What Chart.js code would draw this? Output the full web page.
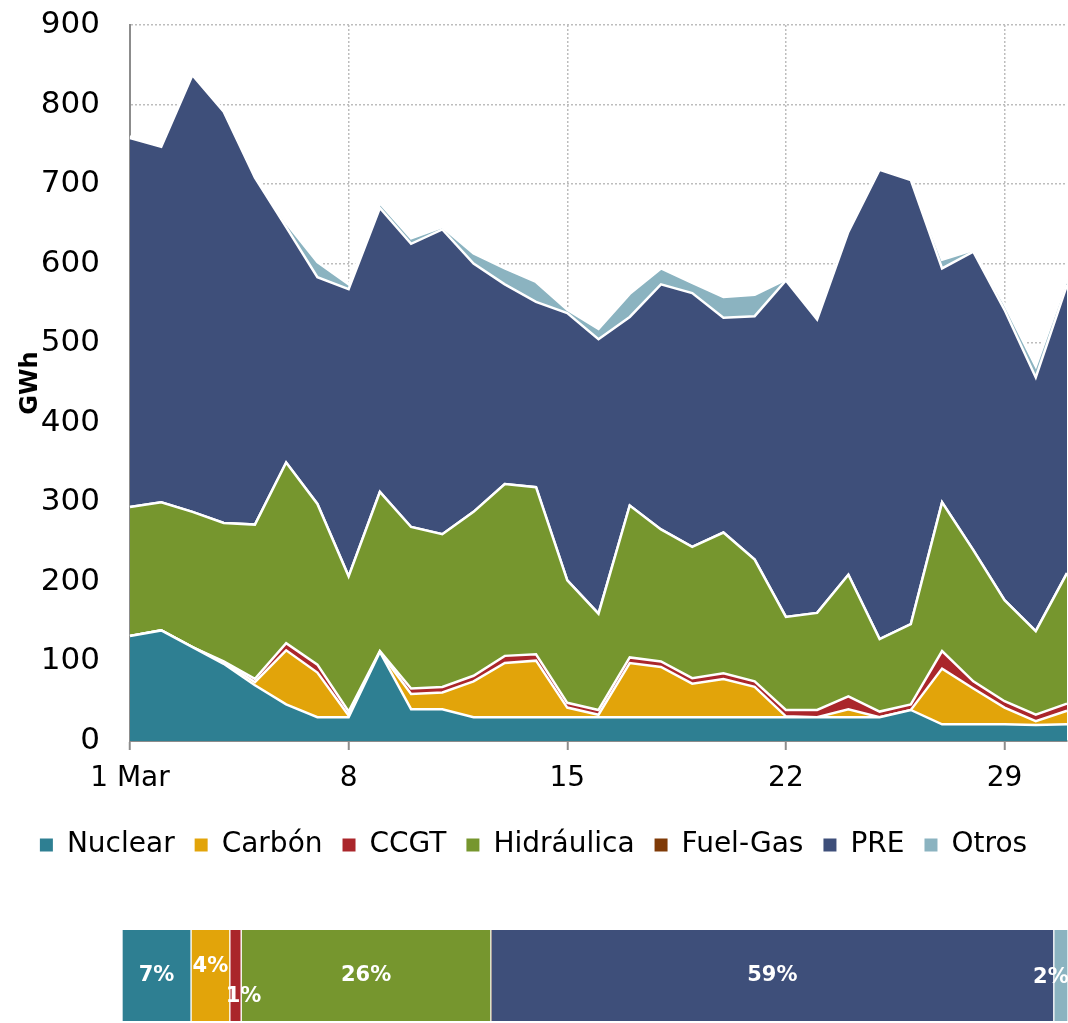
<!DOCTYPE html>
<html>
<head>
<meta charset="utf-8">
<script src="https://cdn.jsdelivr.net/npm/chart.js@4"></script>
<style>
  body { margin: 0; background: #fff; }
  #wrap { position: relative; width: 1068px; height: 1023px; }
  #area { position: absolute; left: 0; top: 0; }
  #share { position: absolute; left: 0; top: 900px; }
</style>
</head>
<body>
<div id="wrap">
  <canvas id="area" width="1068" height="880"></canvas>
  <canvas id="share" width="1068" height="123"></canvas>
</div>
<script>
// March, daily generation in GWh
const days = []
for (let d = 1; d <= 31; d++) days.push(String(d))

const tickDays = ["1", "8", "15", "22", "29"]
const tickText = ["1 Mar", "8", "15", "22", "29"]

const names = ["Nuclear", "Carbón", "CCGT", "Hidráulica", "Fuel-Gas", "PRE", "Otros"]
const colors = ["#2e7f92", "#e2a40a", "#aa262b", "#76962e", "#7f3a07", "#3e4f7a", "#8bb3c0"]

const nuclear = [132, 139, 118, 97, 70, 46, 30, 30, 112, 40, 40, 30, 30, 30, 30, 30, 30, 30, 30, 30, 30, 30, 30, 30, 30, 39, 21, 21, 21, 20, 21]
const carbon = [0, 0, 0, 2, 4, 68, 56, 2, 0, 19, 21, 45, 68, 71, 12, 3, 68, 63, 42, 48, 38, 1, 0, 10, 0, 0, 70, 45, 21, 5, 17]
const ccgt = [0, 0, 0, 1, 4, 9, 10, 5, 1, 7, 7, 7, 9, 8, 6, 6, 7, 7, 7, 7, 7, 8, 9, 16, 7, 7, 22, 9, 8, 8, 9]
const hidraulica = [162, 161, 170, 174, 194, 227, 202, 170, 200, 203, 192, 206, 216, 210, 154, 121, 191, 166, 165, 177, 153, 117, 122, 153, 91, 101, 187, 165, 127, 105, 164]
const fuelgas = [0, 0, 0, 0, 0, 0, 0, 0, 0, 0, 0, 0, 0, 0, 0, 0, 0, 0, 0, 0, 0, 0, 0, 0, 0, 0, 0, 0, 0, 0, 0]
const pre = [464, 447, 549, 517, 436, 296, 285, 361, 357, 356, 383, 312, 251, 233, 336, 345, 237, 308, 319, 270, 306, 423, 369, 431, 590, 558, 294, 375, 365, 319, 362]
const otros = [2, 2, 3, 1, 2, 5, 19, 6, 6, 7, 3, 13, 20, 25, 4, 13, 29, 20, 13, 26, 27, 1, 1, 1, 1, 1, 11, 2, 7, 14, 7]

// month shares (%) for the bar underneath
const shares = [7.3, 4.1, 1.2, 26.4, 0, 59.5, 1.5]
const shareText = ["7%", "4%", "1%", "26%", "", "59%", "2%"]

const series = [nuclear, carbon, ccgt, hidraulica, fuelgas, pre, otros]
const FONT = "'DejaVu Sans', 'Liberation Sans', sans-serif"
const GRID = "#bdbdbd"
const AXIS = "#8c8c8c"
const NONE = "rgba(0,0,0,0)"

const areaSets = series.map((vals, i) => ({
    label: names[i],
    data: vals,
    backgroundColor: colors[i],
    borderColor: "#ffffff",
    borderWidth: 2.5,
    pointRadius: 0,
    tension: 0,
    fill: i == 0 ? "origin" : "-1"
}))

new Chart(document.getElementById("area"), {
    type: "line",
    data: { labels: days, datasets: areaSets },
    options: {
        responsive: false,
        animation: false,
        layout: { padding: { top: 25, right: 1, left: 0, bottom: 11 } },
        plugins: {
            tooltip: { enabled: false },
            legend: {
                position: "bottom",
                labels: {
                    font: { family: FONT, size: 28 },
                    color: "#000",
                    boxWidth: 13,
                    boxHeight: 13,
                    padding: 20,
                    generateLabels: (chart) => chart.data.datasets.map((ds, i) => ({
                        text: ds.label,
                        fillStyle: colors[i],
                        strokeStyle: colors[i],
                        lineWidth: 0,
                        datasetIndex: i
                    }))
                }
            }
        },
        scales: {
            x: {
                type: "category",
                offset: false,
                afterFit: (s) => {
                    s.height = 70
                    s.paddingLeft = 0
                    s.paddingRight = 0
                },
                ticks: {
                    autoSkip: false,
                    maxRotation: 0,
                    padding: 12,
                    color: "#000",
                    font: { family: FONT, size: 28 },
                    callback: function (v, i) {
                        const k = tickDays.indexOf(days[i])
                        return k < 0 ? "" : tickText[k]
                    }
                },
                grid: {
                    color: (c) => (c.index > 0 && tickDays.includes(days[c.index])) ? GRID : NONE,
                    tickColor: (c) => tickDays.includes(days[c.index]) ? AXIS : NONE,
                    tickLength: 9,
                    tickWidth: 2,
                    lineWidth: 1.5
                },
                border: { color: AXIS, width: 2, dash: [2, 2] }
            },
            y: {
                stacked: true,
                min: 0,
                max: 900,
                afterFit: (s) => { s.width = 130 },
                ticks: {
                    stepSize: 100,
                    padding: 0,
                    color: "#000",
                    font: { family: FONT, size: 31 }
                },
                title: {
                    display: true,
                    text: "GWh",
                    color: "#000",
                    font: { family: FONT, size: 24, weight: "bold" },
                    padding: { top: 16, bottom: 0 }
                },
                grid: {
                    drawTicks: true,
                    tickLength: 30,
                    tickColor: NONE,
                    color: (c) => c.tick && c.tick.value > 0 ? GRID : NONE,
                    lineWidth: 1.5
                },
                border: { color: AXIS, width: 2, dash: [2, 2] }
            }
        }
    }
})

// labels on the share bar
const shareLabels = {
    id: "shareLabels",
    afterDatasetsDraw(chart) {
        const ctx = chart.ctx
        const shift = [[0, 0], [0, -9], [8, 21], [0, 0], [0, 0], [0, 0], [-10, 2]]
        ctx.save()
        ctx.fillStyle = "#fff"
        ctx.font = "bold 21px " + FONT
        ctx.textAlign = "center"
        ctx.textBaseline = "middle"
        chart.data.datasets.forEach((ds, i) => {
            if (!shareText[i]) return
            const el = chart.getDatasetMeta(i).data[0]
            const cx = (el.x + el.base) / 2
            ctx.fillText(shareText[i], cx + shift[i][0], el.y + shift[i][1])
        })
        ctx.restore()
    }
}

new Chart(document.getElementById("share"), {
    type: "bar",
    data: {
        labels: ["Mar"],
        datasets: shares.map((v, i) => ({
            label: names[i],
            data: [v],
            backgroundColor: colors[i],
            borderColor: "#ffffff",
            borderWidth: { left: 1, right: 1, top: 0, bottom: 0 },
            borderSkipped: false,
            barPercentage: 1,
            categoryPercentage: 1
        }))
    },
    options: {
        indexAxis: "y",
        responsive: false,
        animation: false,
        layout: { padding: { top: 30, bottom: 2, left: 122, right: 0 } },
        plugins: { legend: { display: false }, tooltip: { enabled: false } },
        scales: {
            x: { stacked: true, display: false, min: 0, max: 100 },
            y: { stacked: true, display: false }
        }
    },
    plugins: [shareLabels]
})
</script>
</body>
</html>
